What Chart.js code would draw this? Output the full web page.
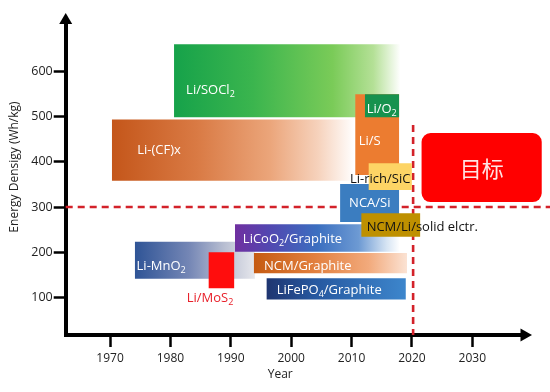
<!DOCTYPE html>
<html><head><meta charset="utf-8">
<script src="https://cdn.jsdelivr.net/npm/chart.js@4.4.1/dist/chart.umd.min.js"></script>
<style>html,body{margin:0;padding:0;background:#fff;}canvas{display:block;}</style>
</head><body>
<canvas id="c" width="550" height="392"></canvas>
<script>
// ---------- data (draw order: bottom first) ----------
const batteries   = ['Li/SOCl_2','Li-(CF)x','Li/S','Li/O_2','NCA/Si','Li-rich/SiC','Li-MnO_2','Li/MoS_2','LiCoO_2/Graphite','NCM/Graphite','LiFePO_4/Graphite','NCM/Li/solid elctr.'];
const yearStart   = [1980.6, 1970.3, 2010.6, 2012.2, 2008.1, 2012.8, 1974.1, 1986.3, 1990.7, 1993.8, 1995.9, 2011.6];
const yearEnd     = [2018.1, 2010.5, 2017.9, 2017.9, 2017.9, 2020.0, 1994.0, 1990.6, 2018.0, 2019.2, 2019.0, 2021.4];
const energyLow   = [499, 358, 371, 499, 267, 338, 141, 120, 201, 153,  95, 234];
const energyHigh  = [661, 494, 550, 550, 351, 397, 223, 200, 262, 198, 142, 286];
const labelYear   = [1982.6, 1974.5, 2011.2, 2012.5, 2009.6, 2009.75, 1974.4, 1982.7, 1992.0, 1995.5, 1997.6, 2012.5];
const labelEnergy = [559, 426, 445, 517, 309, 362, 168, 98, 228, 169, 116, 256];
const targetLabel = '目标';
const targetYears = [2021.6, 2041.5];
const targetEnergy = [311, 464];
const targetLineEnergy = 300;
const targetLineYear = 2020.2;
const targetLineTop = 482;
const yearTicks   = [1970, 1980, 1990, 2000, 2010, 2020, 2030];
const energyTicks = [100, 200, 300, 400, 500, 600];
const xTitle = 'Year';
const yTitle = 'Energy Densigy (Wh/kg)';

// ---------- styles ----------
const X_MIN = 1962.66, X_MAX = 2038.15, Y_MIN = 16.4, Y_MAX = 707.9;
const boxFills = [
  [[0,'#16a24a'],[0.35,'#3bb54e'],[0.7,'#7acb58'],[0.88,'#b4e096'],[1,'#ffffff']],
  [[0,'#c4561a'],[0.35,'#d97a44'],[0.65,'#eba57a'],[0.85,'#f6d2bc'],[1,'#ffffff']],
  '#ec7c30',
  '#16924e',
  '#3b7dc0',
  '#fdd465',
  [[0,'#2f5496'],[0.45,'#7486b5'],[0.75,'#b9bfd2'],[1,'#e6e7ec']],
  '#ff0d0d',
  [[0,'#7030a0'],[0.2,'#5346b0'],[0.5,'#3b6fc0'],[0.75,'#6d9ad3'],[0.92,'#d6e4f3'],[1,'#ffffff']],
  [[0,'#c55a11'],[0.4,'#e2803f'],[0.75,'#f2aa7c'],[1,'#fbe3d4']],
  [[0,'#1f3570'],[0.35,'#2658a0'],[1,'#3d86cc']],
  '#be9000'
];
const labelColors = ['#fff','#fff','#fff','#fff','#fff','#111','#fff','#e8202a','#fff','#fff','#fff','#111'];
const FONT = "'Open Sans', sans-serif";
Chart.defaults.font.family = FONT;

function fillFor(i) {
  const f = boxFills[i];
  if (typeof f === 'string') return f;
  return (ctx) => {
    const ch = ctx.chart, xs = ch.scales && ch.scales.x;
    if (!ch.chartArea || !xs) return f[0][1];
    const x0 = xs.getPixelForValue(yearStart[i]), x1 = xs.getPixelForValue(yearEnd[i]);
    const g = ch.ctx.createLinearGradient(x0, 0, x1, 0);
    f.forEach(([o, c]) => g.addColorStop(o, c));
    return g;
  };
}

const datasets = [];
const N = batteries.length;
batteries.forEach((name, i) => {
  datasets.push({
    label: name,
    data: [{x: yearStart[i], y: energyHigh[i]}, {x: yearEnd[i], y: energyHigh[i]}],
    fill: '+1', backgroundColor: fillFor(i),
    borderColor: 'rgba(0,0,0,0)', borderWidth: 0, pointRadius: 0, order: 100 - i
  });
  datasets.push({
    label: name + ' low',
    data: [{x: yearStart[i], y: energyLow[i]}, {x: yearEnd[i], y: energyLow[i]}],
    fill: false, borderColor: 'rgba(0,0,0,0)', borderWidth: 0, pointRadius: 0, order: 100 - i
  });
});
// dashed target lines
datasets.push({
  label: 'target energy',
  data: [{x: X_MIN, y: targetLineEnergy}, {x: X_MAX + 4.8, y: targetLineEnergy}],
  fill: false, borderColor: '#d3222a', borderWidth: 2.6, borderDash: [7, 5],
  pointRadius: 0, order: 1000, clip: false
});
datasets.push({
  label: 'target year',
  data: [{x: targetLineYear, y: targetLineTop}, {x: targetLineYear, y: Y_MIN}],
  fill: false, borderColor: '#d3222a', borderWidth: 2.6, borderDash: [7, 5],
  pointRadius: 0, order: 1000, clip: false
});

function drawRich(ctx, text, x, y, size, color) {
  ctx.save();
  ctx.fillStyle = color;
  ctx.textBaseline = 'middle';
  ctx.textAlign = 'left';
  let cx = x;
  for (let k = 0; k < text.length; k++) {
    let ch = text[k], sub = false;
    if (ch === '_' && k + 1 < text.length) { ch = text[++k]; sub = true; }
    ctx.font = (sub ? Math.round(size * 0.7) : size) + 'px ' + FONT;
    ctx.fillText(ch, cx, sub ? y + size * 0.3 : y);
    cx += ctx.measureText(ch).width;
  }
  ctx.restore();
}

const overlay = {
  id: 'overlay',
  afterDatasetsDraw(chart) {
    const ctx = chart.ctx, xs = chart.scales.x, ys = chart.scales.y;
    // target box
    const tx0 = xs.getPixelForValue(targetYears[0]), tx1 = xs.getPixelForValue(targetYears[1]);
    const ty0 = ys.getPixelForValue(targetEnergy[1]), ty1 = ys.getPixelForValue(targetEnergy[0]);
    ctx.save();
    ctx.fillStyle = '#ff0000';
    ctx.beginPath();
    ctx.roundRect(tx0, ty0, tx1 - tx0, ty1 - ty0, 9);
    ctx.fill();
    ctx.fillStyle = '#ffe4e4';
    ctx.font = "22px 'Noto Sans CJK SC', sans-serif";
    ctx.textAlign = 'center'; ctx.textBaseline = 'middle';
    ctx.fillText(targetLabel, (tx0 + tx1) / 2, (ty0 + ty1) / 2 + 1);
    ctx.restore();
    // box labels
    batteries.forEach((name, i) => {
      drawRich(ctx, name, xs.getPixelForValue(labelYear[i]), ys.getPixelForValue(labelEnergy[i]), 13, labelColors[i]);
    });
  },
  afterDraw(chart) {
    const ctx = chart.ctx, a = chart.chartArea;
    ctx.save();
    ctx.fillStyle = '#000';
    // y arrow
    ctx.beginPath();
    ctx.moveTo(a.left - 6.5, a.top + 1);
    ctx.lineTo(a.left + 6.5, a.top + 1);
    ctx.lineTo(a.left, a.top - 10);
    ctx.closePath(); ctx.fill();
    // x arrow
    ctx.beginPath();
    ctx.moveTo(a.right - 1, a.bottom - 6.5);
    ctx.lineTo(a.right - 1, a.bottom + 6.5);
    ctx.lineTo(a.right + 10.5, a.bottom);
    ctx.closePath(); ctx.fill();
    // axis titles
    ctx.fillStyle = '#222';
    ctx.font = '12px ' + FONT;
    ctx.textAlign = 'center'; ctx.textBaseline = 'middle';
    ctx.fillText(xTitle, a.left + 214.5, a.bottom + 40);
    ctx.translate(15, a.top + 144);
    ctx.rotate(-Math.PI / 2);
    ctx.fillText(yTitle, 0, 0);
    ctx.restore();
  }
};

new Chart(document.getElementById('c'), {
  type: 'line',
  data: { datasets },
  plugins: [overlay],
  options: {
    responsive: false,
    animation: false,
    layout: { padding: { top: 23, right: 28.5, left: 0, bottom: 0 } },
    plugins: { legend: { display: false }, tooltip: { enabled: false } },
    elements: { line: { tension: 0 } },
    scales: {
      x: {
        type: 'linear', min: X_MIN, max: X_MAX,
        afterBuildTicks: s => { s.ticks = yearTicks.map(v => ({ value: v })); },
        afterFit: s => { s.height = 57; },
        ticks: { color: '#222', font: { size: 12 }, padding: 4, maxRotation: 0, callback: v => String(v) },
        grid: { display: true, drawOnChartArea: false, drawTicks: true, tickLength: 12, tickWidth: 2.5, tickColor: '#000' },
        border: { display: true, width: 4, color: '#000' }
      },
      y: {
        type: 'linear', min: Y_MIN, max: Y_MAX,
        afterBuildTicks: s => { s.ticks = energyTicks.map(v => ({ value: v })); },
        afterFit: s => { s.width = 65.7; },
        ticks: { color: '#222', font: { size: 12.5 }, padding: 1, callback: v => String(v) },
        grid: { display: true, drawOnChartArea: false, drawTicks: true, tickLength: 12, tickWidth: 2.5, tickColor: '#000' },
        border: { display: true, width: 4, color: '#000' }
      }
    }
  }
});
</script>
</body></html>
